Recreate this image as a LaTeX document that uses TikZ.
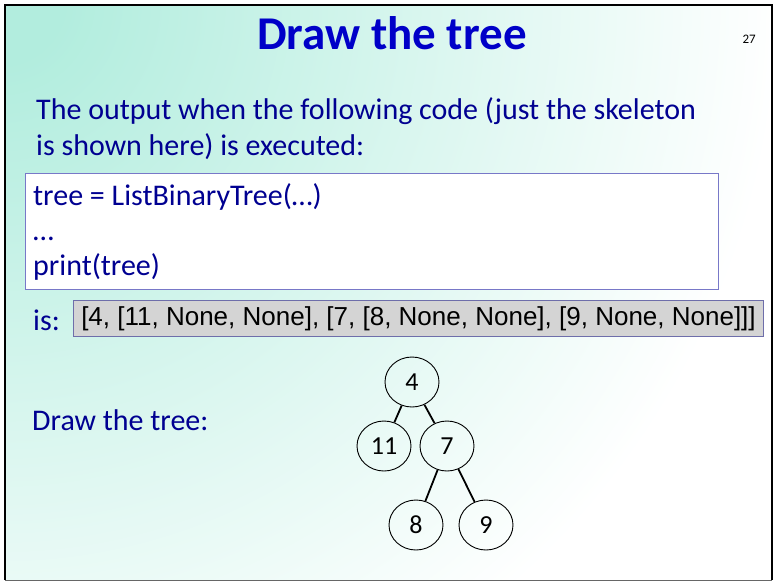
\documentclass[tikz,border=0pt]{standalone}
\usepackage{fontspec}
\setmainfont{Carlito}
\newfontfamily\arialfont{Liberation Sans}
\usetikzlibrary{shapes.geometric}
\definecolor{bgteal}{RGB}{178,237,222}
\definecolor{titleblue}{RGB}{0,0,200}
\definecolor{bodyblue}{RGB}{0,0,145}
\definecolor{codeborder}{RGB}{120,120,200}
\definecolor{outfill}{RGB}{212,212,212}
\definecolor{outborder}{RGB}{110,110,170}
\pgfdeclareradialshading{slidebg}{\pgfpointorigin}{color(0bp)=(bgteal); color(2bp)=(bgteal); color(25bp)=(white); color(50bp)=(white)}
\begin{document}
\begin{tikzpicture}[x=1pt,y=-1pt,
  bodytext/.style={anchor=base west, text=bodyblue, font=\fontsize{30}{36}\selectfont, inner sep=0pt},
  treenode/.style={ellipse, draw, line width=0.9pt, minimum width=54pt, minimum height=50pt, inner sep=0pt, font=\fontsize{26}{30}\selectfont},
  treeedge/.style={line width=1.8pt}]
\useasboundingbox (0,0) rectangle (774,582);
\fill[white] (5,5) rectangle (772,580);
\begin{scope}
\clip (5,5) rectangle (772,580);
\shade[shading=slidebg] (-780,-780) rectangle (780,780);
\end{scope}
\draw[black!60, line width=1pt] (5,580.5) -- (772,580.5);
\draw[black, line width=2pt] (5,580) -- (5,5) -- (772,5) -- (772,580);

\node[anchor=base, font=\bfseries\fontsize{47}{56}\selectfont, text=titleblue, inner sep=0pt] (title) at (392,49) {Draw the tree};
\node[anchor=base east, font=\fontsize{13}{15}\selectfont, inner sep=0pt] (pagenum) at (756,43) {27};

\node[bodytext] (intro1) at (36,119) {The output when the following code (just the skeleton};
\node[bodytext] (intro2) at (36,155) {is shown here) is executed:};

\node[draw=codeborder, fill=white, line width=1pt, anchor=north west, minimum width=693pt, minimum height=116pt, inner sep=0pt] (codebox) at (25,173) {};
\node[bodytext] (code1) at (33,205) {tree = ListBinaryTree(…)};
\node[bodytext] (code2) at (33,240) {…};
\node[bodytext] (code3) at (33,275) {print(tree)};

\node[bodytext] (islabel) at (33,330) {is:};
\node[draw=outborder, fill=outfill, line width=1pt, anchor=north west, minimum width=690pt, minimum height=36pt, inner sep=0pt, font=\arialfont\fontsize{26}{30}\selectfont] (outbox) at (73,300) {[4, [11, None, None], [7, [8, None, None], [9, None, None]]]};

\node[bodytext] (drawlabel) at (32,430) {Draw the tree:};

\node[treenode] (n4) at (412,382) {4};
\node[treenode] (n11) at (384,446) {11};
\node[treenode] (n7) at (447,446) {7};
\node[treenode] (n8) at (416,525) {8};
\node[treenode] (n9) at (486,525) {9};
\draw[treeedge] (n4) -- (n11);
\draw[treeedge] (n4) -- (n7);
\draw[treeedge] (n7) -- (n8);
\draw[treeedge] (n7) -- (n9);
\end{tikzpicture}
\end{document}
